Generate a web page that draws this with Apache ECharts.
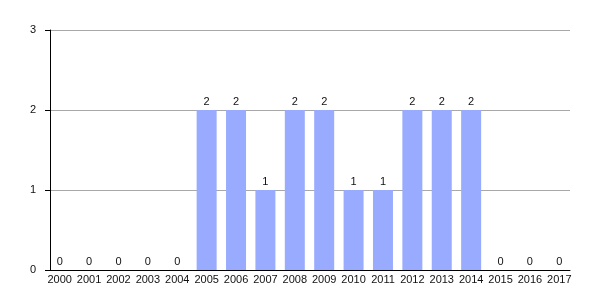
<!DOCTYPE html>
<html>
<head>
<meta charset="utf-8">
<script src="https://cdn.jsdelivr.net/npm/echarts@6/dist/echarts.min.js"></script>
<style>html,body{margin:0;padding:0;background:#fff}#c{width:600px;height:300px}</style>
</head>
<body>
<div id="c"></div>
<script>
const categories = ['2000','2001','2002','2003','2004','2005','2006','2007','2008','2009','2010','2011','2012','2013','2014','2015','2016','2017'];
const values = [0,0,0,0,0,2,2,1,2,2,1,1,2,2,2,0,0,0];
const yTicks = [0,1,2,3];

const font = 'Liberation Sans, Arial, sans-serif';
const chart = echarts.init(document.getElementById('c'), null, {renderer:'canvas'});
chart.setOption({
  animation: false,
  backgroundColor: '#fff',
  grid: [
    {left: 50, right: 30, top: 30, bottom: 30},
    {left: 45, width: 529, top: 30, bottom: 30}
  ],
  xAxis: [
    {gridIndex: 0, type: 'category', data: categories, axisLine: {show: true, lineStyle: {color: '#000', width: 1}}, axisTick: {show: false}, axisLabel: {show: false}, splitLine: {show: false}},
    {gridIndex: 1, type: 'category', data: categories, axisLine: {show: false}, axisTick: {show: false},
     axisLabel: {show: true, color: '#111', fontSize: 11, fontFamily: font, margin: 4, interval: 0}}
  ],
  yAxis: [
    {gridIndex: 0, type: 'value', min: yTicks[0], max: yTicks[yTicks.length-1], interval: 1,
     axisLine: {show: true, lineStyle: {color: '#000', width: 1}},
     axisTick: {show: true, length: 5, lineStyle: {color: '#000'}},
     axisLabel: {color: '#111', fontSize: 11, fontFamily: font, margin: 14},
     splitLine: {show: true, lineStyle: {color: '#a8a8a8', width: 1}}},
    {gridIndex: 1, type: 'value', min: 0, max: 3, show: false, splitLine: {show: false}}
  ],
  series: [{
    type: 'bar', xAxisIndex: 1, yAxisIndex: 1, data: values, barWidth: 20,
    itemStyle: {color: '#99abff'},
    label: {show: true, position: 'top', distance: 3, color: '#111', fontSize: 11, fontFamily: font}
  }]
});
</script>
</body>
</html>
